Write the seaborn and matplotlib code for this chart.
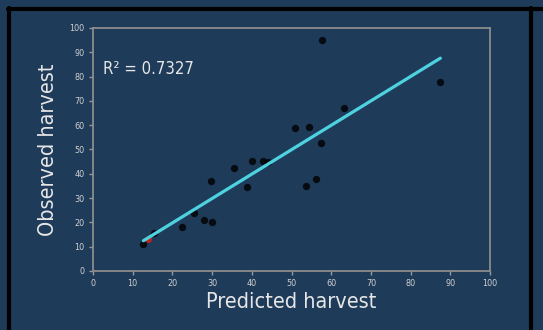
import numpy as np
import pandas as pd
import matplotlib
matplotlib.use("Agg")
import matplotlib.pyplot as plt
import seaborn as sns

# predicted vs observed harvest
predicted = [12.7, 15.3, 22.3, 25.4, 28.0, 30.0, 29.7, 35.4, 38.9, 40.0, 42.9,
             44.1, 50.8, 54.5, 53.7, 56.2, 57.4, 57.7, 63.1, 87.5]
observed = [11.2, 15.8, 18.1, 24.0, 21.1, 20.3, 37.1, 42.5, 34.5, 45.1, 45.1,
            44.8, 59.0, 59.2, 35.1, 37.9, 52.5, 95.1, 67.1, 77.8]
red_pred = [13.8]
red_obs = [13.0]
r2_text = "R\u00b2 = 0.7327"
ticks = [0, 10, 20, 30, 40, 50, 60, 70, 80, 90, 100]

df = pd.DataFrame({"predicted": predicted, "observed": observed})

sns.set_style("dark")
plt.rcParams['font.family'] = ['DejaVu Sans']
plt.rcParams['font.stretch'] = 'condensed'

bg = "#1e3b5a"
fig = plt.figure(figsize=(5.43, 3.30), dpi=100, facecolor=bg)

# black frame
fig.add_artist(plt.Line2D([0.0145, 1.0], [0.974, 0.974], color="black", lw=3))
fig.add_artist(plt.Line2D([0.0165, 0.0165], [0.0, 0.977], color="black", lw=3))
fig.add_artist(plt.Line2D([0.978, 0.978], [0.0, 0.977], color="black", lw=3))

ax = fig.add_axes([0.1713, 0.1788, 0.7311, 0.7364], facecolor=bg)

ax.scatter(red_pred, red_obs, color="#c0201e", s=16, zorder=2)
sns.regplot(data=df, x="predicted", y="observed", ax=ax, ci=None, truncate=True,
            scatter_kws=dict(color="black", s=28, zorder=3, linewidths=0),
            line_kws=dict(color="#4fd2df", lw=2.3, zorder=4))

ax.set_xlim(0, 100)
ax.set_ylim(0, 100)
ax.set_xticks(ticks)
ax.set_yticks(ticks)
ax.tick_params(axis="both", colors="#9a9a9a", labelcolor="#d0d0d0", labelsize=6.5,
               length=3, width=1, direction="out", bottom=True, left=True, pad=3)
ax.grid(False)
for s in ax.spines.values():
    s.set_visible(True)
    s.set_color("#8c8c8c")
    s.set_linewidth(1.3)

ax.set_xlabel("Predicted harvest", color="#e6e6e6", fontsize=15.5, labelpad=3)
ax.set_ylabel("Observed harvest", color="#e6e6e6", fontsize=15.5, labelpad=8)
ax.text(2.6, 83, r2_text, color="#e6e6e6", fontsize=12, va="center", ha="left")

fig.savefig("out.png", dpi=100, facecolor=bg)
